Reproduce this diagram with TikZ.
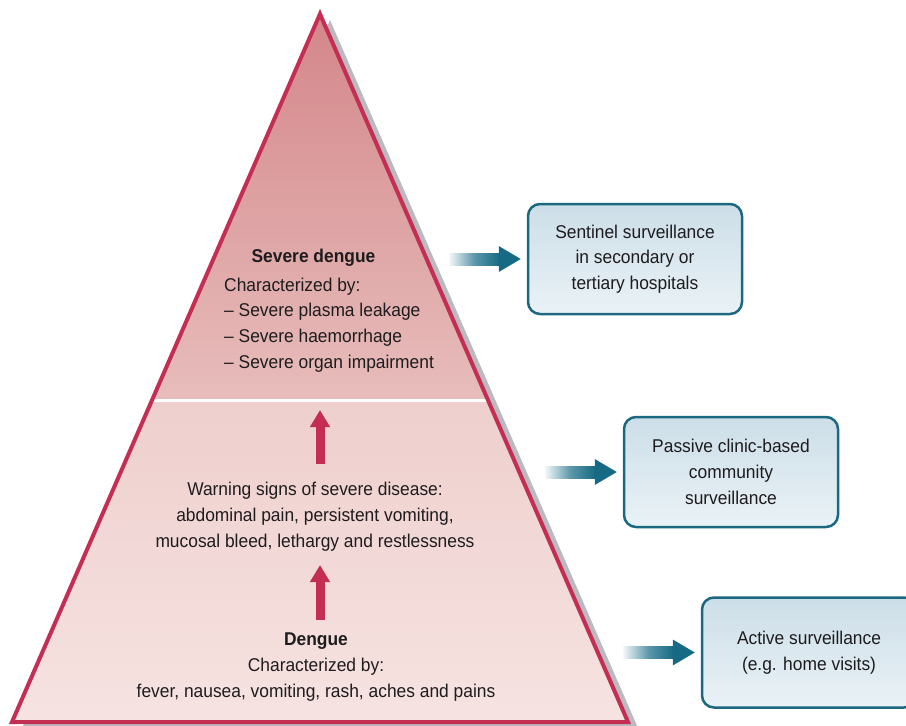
\documentclass[tikz,border=0pt]{standalone}
\usepackage{fontspec}
\setmainfont[FakeStretch=0.94]{Liberation Sans}
\usetikzlibrary{arrows.meta,calc}
\definecolor{pyrtop}{RGB}{212,134,138}
\definecolor{pyrmid}{RGB}{231,189,187}
\definecolor{pyrlow}{RGB}{238,207,205}
\definecolor{pyrbot}{RGB}{246,227,225}
\definecolor{crimson}{RGB}{196,46,82}
\definecolor{shadowgray}{RGB}{186,186,192}
\definecolor{boxtop}{RGB}{204,222,232}
\definecolor{boxbot}{RGB}{234,242,246}
\definecolor{boxline}{RGB}{28,104,128}
\definecolor{flowteal}{RGB}{22,106,132}
\definecolor{ink}{RGB}{30,28,30}
\tikzset{
    pyrtext/.style={inner sep=0pt,text=ink,align=center,font=\fontsize{18.5}{25.7}\selectfont},
    survbox/.style={pyrtext,draw=boxline,line width=2.5pt,rounded corners=12pt,top color=boxtop,bottom color=boxbot,minimum width=214pt,minimum height=110pt},
    uparrow/.style={crimson,line width=9pt,-{Triangle[length=17pt,width=19pt]}}
}
\begin{document}
\begin{tikzpicture}[x=1pt,y=-1pt]
        \useasboundingbox(0,0)rectangle(906,726);
        % pyramid
        \fill[shadowgray](330,20)--(22,728)--(638,728)--cycle;
        \fill[top color=pyrtop,bottom color=pyrmid](320,14)--(152,400)--(488,400)--cycle;
        \fill[top color=pyrlow,bottom color=pyrbot](152,400)--(488,400)--(628,722)--(12,722)--cycle;
        \draw[white,line width=3pt](152,400)--(488,400);
        \draw[crimson,line width=4pt](320,14)--(12,722)--(628,722)--cycle;

        \node[pyrtext,anchor=base](sevtitle)at(313.5,262){\textbf{Severe dengue}};
        \node[pyrtext,anchor=north west,align=left](sevlist)at(224,277.5){Characterized by:\\– Severe plasma leakage\\– Severe haemorrhage\\– Severe organ impairment};
        \node[pyrtext,anchor=north](warning)at(315,482){Warning signs of severe disease:\\abdominal pain, persistent vomiting,\\mucosal bleed, lethargy and restlessness};
        \node[pyrtext,anchor=north](dengue)at(316,633){\textbf{Dengue}\\Characterized by:\\fever, nausea, vomiting, rash, aches and pains};

        \coordinate(up1)at(320,464);
        \coordinate(up1tip)at(320,410);
        \coordinate(up2)at(320,620);
        \coordinate(up2tip)at(320,565);
        \draw[uparrow](up1)--(up1tip);
        \draw[uparrow](up2)--(up2tip);

        % surveillance boxes
        \node[survbox](sentinel)at(635,259){Sentinel surveillance\\in secondary or\\tertiary hospitals};
        \node[survbox](passive)at(731,472){Passive clinic-based\\community\\surveillance};
        \node[survbox](active)at(809,652.5){Active surveillance\\(e.g. home visits)};
        \foreach \bx in {sentinel,passive,active}
            {
                \fill[left color=flowteal!4,right color=flowteal,middle color=flowteal!70]($(\bx.west)+(-78,-6)$)rectangle($(\bx.west)+(-27,6)$);
                \fill[flowteal]($(\bx.west)+(-28,-13)$)--($(\bx.west)+(-6,0)$)--($(\bx.west)+(-28,13)$)--cycle;
            }
    \end{tikzpicture}
\end{document}
